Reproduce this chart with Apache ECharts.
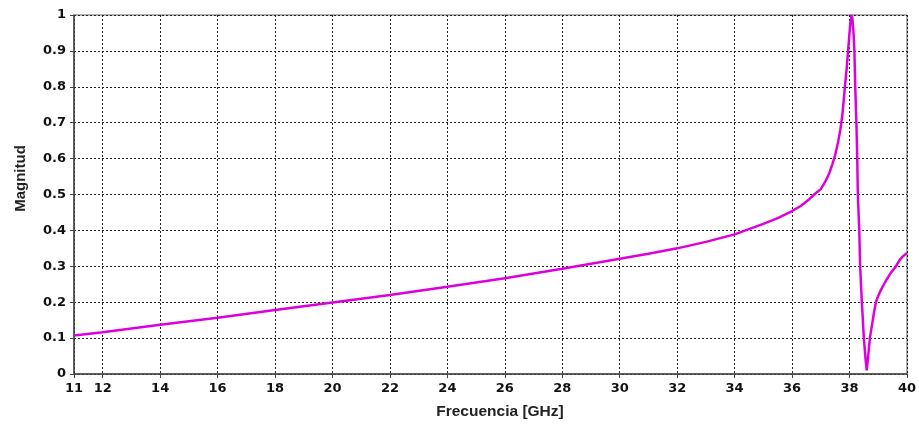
<!DOCTYPE html>
<html>
<head>
<meta charset="utf-8">
<script src="https://cdn.jsdelivr.net/npm/echarts@6/dist/echarts.min.js"></script>
<style>
html,body{margin:0;padding:0;background:#fff;}
#chart{width:919px;height:425px;}
</style>
</head>
<body>
<div id="chart"></div>
<script>
// Frequency (GHz)
var freq = [11, 12, 14, 16, 18, 20, 22, 24, 26, 28, 29.3, 30, 31, 32, 33, 34, 35, 35.5, 36, 36.3, 36.6, 36.8, 37, 37.15, 37.3, 37.4, 37.5, 37.6, 37.68, 37.75, 37.84, 37.9, 37.95, 38.0, 38.04, 38.07, 38.1, 38.14, 38.17, 38.2, 38.24, 38.27, 38.29, 38.34, 38.37, 38.43, 38.5, 38.56, 38.6, 38.65, 38.71, 38.75, 38.85, 38.92, 39.0, 39.1, 39.2, 39.3, 39.4, 39.5, 39.6, 39.75, 39.85, 40];
// Magnitude
var magnitud = [0.107, 0.116, 0.137, 0.157, 0.178, 0.199, 0.220, 0.243, 0.267, 0.293, 0.311, 0.321, 0.335, 0.350, 0.368, 0.389, 0.418, 0.434, 0.454, 0.468, 0.487, 0.502, 0.515, 0.535, 0.560, 0.583, 0.610, 0.645, 0.680, 0.720, 0.800, 0.850, 0.900, 0.950, 0.985, 1.000, 0.990, 0.950, 0.900, 0.800, 0.700, 0.600, 0.500, 0.400, 0.300, 0.200, 0.100, 0.040, 0.010, 0.050, 0.100, 0.120, 0.170, 0.200, 0.218, 0.235, 0.250, 0.264, 0.277, 0.288, 0.298, 0.318, 0.327, 0.337];
var xTicks = [11, 12, 14, 16, 18, 20, 22, 24, 26, 28, 30, 32, 34, 36, 38, 40];

var points = freq.map(function (f, i) { return [f, magnitud[i]]; });

var chart = echarts.init(document.getElementById('chart'), null, {renderer: 'canvas'});
var labelFont = {fontFamily: 'DejaVu Sans', fontWeight: 'bold', fontSize: 13, color: '#111'};
chart.setOption({
  animation: false,
  backgroundColor: '#fff',
  grid: {left: 74, right: 11, top: 15, bottom: 51, show: true, borderColor: '#666', borderWidth: 1},
  xAxis: {
    type: 'value', min: 11, max: 40,
    name: 'Frecuencia [GHz]', nameLocation: 'middle', nameGap: 30,
    nameTextStyle: {fontFamily: 'Liberation Sans', fontWeight: 'bold', fontSize: 15.5, color: '#222', padding: [0, 0, 0, 19]},
    axisLine: {lineStyle: {color: '#444', width: 1.5}},
    axisTick: {show: true, length: 4, customValues: xTicks, lineStyle: {color: '#444'}},
    axisLabel: Object.assign({customValues: xTicks, margin: 8}, labelFont),
    splitLine: {show: true, lineStyle: {color: '#222', type: [2, 2], width: 1}}
  },
  yAxis: {
    type: 'value', min: 0, max: 1, interval: 0.1,
    name: 'Magnitud', nameLocation: 'middle', nameGap: 46, nameRotate: 90,
    nameTextStyle: {fontFamily: 'Liberation Sans', fontWeight: 'bold', fontSize: 15, color: '#222', padding: [0, 0, 0, 32]},
    axisLine: {show: true, lineStyle: {color: '#444', width: 1.5}},
    axisTick: {show: true, length: 4, lineStyle: {color: '#444'}},
    axisLabel: Object.assign({margin: 8}, labelFont),
    splitLine: {show: true, lineStyle: {color: '#222', type: [2, 2], width: 1}}
  },
  series: [{
    type: 'line', data: points, showSymbol: false, smooth: false,
    lineStyle: {color: '#dc00dc', width: 2.5},
    clip: true
  }]
});
</script>
</body>
</html>
